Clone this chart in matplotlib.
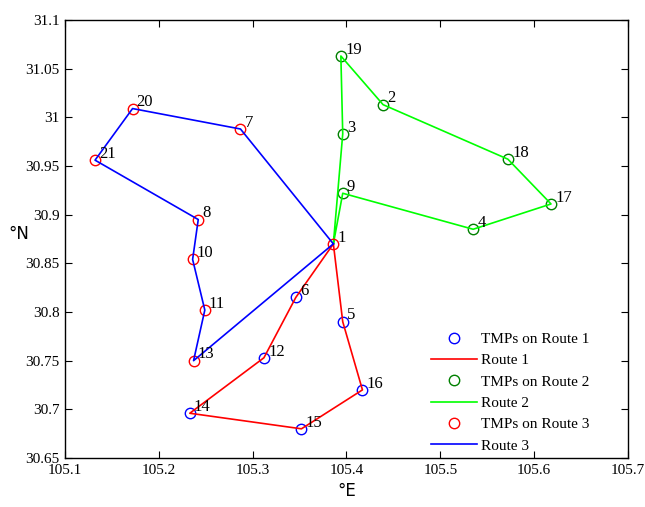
import matplotlib.pyplot as plt

# TMP coordinates (lon, lat) by id
ids = list(range(1, 22))
lon = [105.386, 105.439, 105.396, 105.535, 105.396, 105.346, 105.287,
       105.242, 105.396, 105.236, 105.249, 105.312, 105.237, 105.233,
       105.352, 105.417, 105.618, 105.572, 105.394, 105.172, 105.132]
lat = [30.870, 31.013, 30.983, 30.885, 30.790, 30.815, 30.988,
       30.895, 30.922, 30.854, 30.802, 30.753, 30.750, 30.696,
       30.680, 30.720, 30.911, 30.957, 31.063, 31.009, 30.956]

route1 = [1, 5, 16, 15, 14, 12, 6, 1]
route2 = [1, 9, 4, 17, 18, 2, 19, 3, 1]
route3 = [1, 7, 20, 21, 8, 10, 11, 13, 1]

tmps1 = [5, 16, 15, 14, 12, 6]
tmps2 = [9, 4, 17, 18, 2, 19, 3]
tmps3 = [1, 7, 20, 21, 8, 10, 11, 13]

plt.rcParams['font.family'] = ['Liberation Serif', 'DejaVu Serif']

fig = plt.figure(figsize=(6.45, 5.07), dpi=100)
ax = fig.add_axes([0.1008, 0.0966, 0.8728, 0.864])


def xs(r):
    return [lon[i - 1] for i in r]


def ys(r):
    return [lat[i - 1] for i in r]


mk = dict(marker='o', linestyle='none', markersize=7.5, markerfacecolor='none', markeredgewidth=1.0)
ax.plot(xs(tmps1), ys(tmps1), color='#0000ff', label='TMPs on Route 1', **mk)
ax.plot(xs(route1), ys(route1), color='#ff0000', lw=1.2, label='Route 1')
ax.plot(xs(tmps2), ys(tmps2), color='#008000', label='TMPs on Route 2', **mk)
ax.plot(xs(route2), ys(route2), color='#00ff00', lw=1.2, label='Route 2')
ax.plot(xs(tmps3), ys(tmps3), color='#ff0000', label='TMPs on Route 3', **mk)
ax.plot(xs(route3), ys(route3), color='#0000ff', lw=1.2, label='Route 3')

for i, x, y in zip(ids, lon, lat):
    ax.annotate(str(i), (x, y), xytext=(3, 4.5), textcoords='offset points',
                ha='left', va='center', fontsize=12)

ax.set_xlim(105.1, 105.7)
ax.set_ylim(30.65, 31.1)
ax.set_xticks([105.1, 105.2, 105.3, 105.4, 105.5, 105.6, 105.7])
ax.set_xticklabels(['105.1', '105.2', '105.3', '105.4', '105.5', '105.6', '105.7'])
yt = [30.65, 30.7, 30.75, 30.8, 30.85, 30.9, 30.95, 31, 31.05, 31.1]
ax.set_yticks(yt)
ax.set_yticklabels(['30.65', '30.7', '30.75', '30.8', '30.85', '30.9', '30.95', '31', '31.05', '31.1'])
ax.tick_params(direction='in', top=True, right=True, labelsize=11, length=5, width=0.8, pad=4)
for s in ax.spines.values():
    s.set_linewidth(1.0)

ax.set_xlabel('°E', fontsize=12, family='DejaVu Sans', labelpad=4)
ax.set_ylabel('°N', fontsize=12, family='DejaVu Sans', rotation=0)
ax.yaxis.set_label_coords(-0.082, 0.49)

ax.legend(loc='lower left', frameon=False, fontsize=11, handlelength=3.0,
          handletextpad=0.3, labelspacing=0.5, borderpad=0, borderaxespad=0,
          bbox_to_anchor=(0.650, 0.012))

fig.savefig('out.png', dpi=100)
